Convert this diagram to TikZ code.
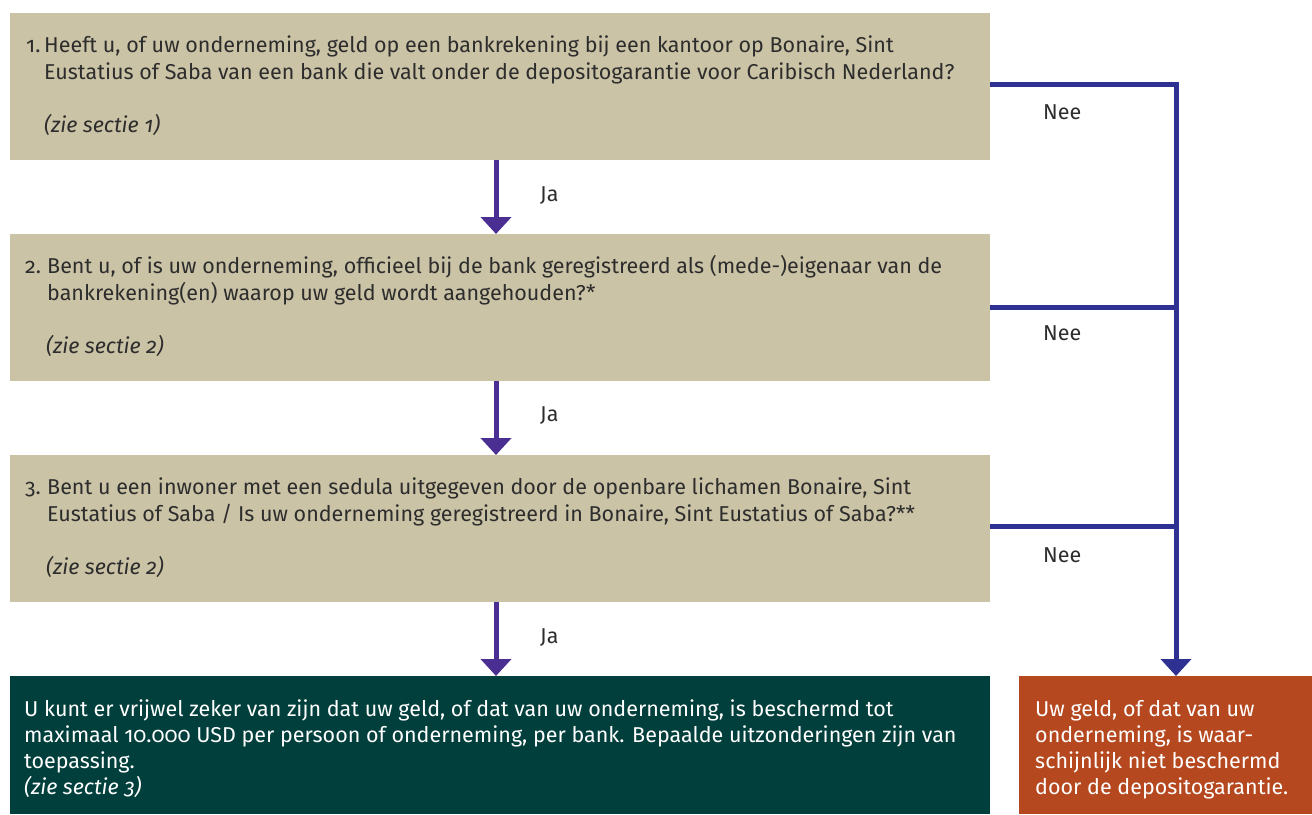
\documentclass[tikz,border=0pt]{standalone}
\usepackage{fontspec}
\setmainfont{Fira Sans}[Numbers=OldStyle]
\usetikzlibrary{arrows.meta}
\definecolor{beige}{HTML}{CBC3A6}
\definecolor{dgreen}{HTML}{003F3C}
\definecolor{rust}{HTML}{B5481E}
\definecolor{navy}{HTML}{2E3192}
\definecolor{purp}{HTML}{4B2E91}
\definecolor{txt}{HTML}{2D2D2D}
\begin{document}
\begin{tikzpicture}[x=1pt,y=-1pt,
  qbox/.style={fill=beige, draw=none, inner sep=0, anchor=north west, minimum width=980pt, minimum height=147pt},
  line/.style={anchor=base west, inner sep=0, text=txt, font=\fontsize{21.5}{26}\selectfont},
  wline/.style={line, text=white},
  ital/.style={line, font=\fontsize{21.5}{26}\selectfont\itshape},
  lbl/.style={anchor=base west, inner sep=0, text=txt, font=\fontsize{21.5}{26}\selectfont},
  varrow/.style={draw=purp, line width=5pt, -{Triangle[width=30pt,length=17pt]}},
  nline/.style={draw=navy, line width=5pt, line join=miter},
  narrow/.style={nline, -{Triangle[width=30pt,length=17pt]}}
]
\useasboundingbox (0,0) rectangle (1312,814);
% boxes
\node[qbox] (b1) at (10,13) {};
\node[qbox] (b2) at (10,234) {};
\node[qbox] (b3) at (10,455) {};
\node[fill=dgreen, inner sep=0, anchor=north west, minimum width=980pt, minimum height=138pt] (yes) at (10,676) {};
\node[fill=rust, inner sep=0, anchor=north west, minimum width=293pt, minimum height=138pt] (no) at (1019,676) {};
% texts box 1
\node[line] (t1n) at (26,52) {1.};
\node[line] (t1a) at (44,52) {Heeft u, of uw onderneming, geld op een bankrekening bij een kantoor op Bonaire, Sint};
\node[line] (t1b) at (44,79) {Eustatius of Saba van een bank die valt onder de depositogarantie voor Caribisch Nederland?};
\node[ital] (t1c) at (44,132) {(zie sectie 1)};
% texts box 2
\node[line] (t2n) at (25,273) {2.};
\node[line] (t2a) at (47,273) {Bent u, of is uw onderneming, officieel bij de bank geregistreerd als (mede-)eigenaar van de};
\node[line] (t2b) at (47,300) {bankrekening(en) waarop uw geld wordt aangehouden?*};
\node[ital] (t2c) at (46,353) {(zie sectie 2)};
% texts box 3
\node[line] (t3n) at (25,494) {3.};
\node[line] (t3a) at (47,494) {Bent u een inwoner met een sedula uitgegeven door de openbare lichamen Bonaire, Sint};
\node[line] (t3b) at (47,521) {Eustatius of Saba / Is uw onderneming geregistreerd in Bonaire, Sint Eustatius of Saba?**};
\node[ital] (t3c) at (46,574) {(zie sectie 2)};
% green
\node[wline] (g1) at (24,716) {U kunt er vrijwel zeker van zijn dat uw geld, of dat van uw onderneming, is beschermd tot};
\node[wline] (g2) at (24,742) {maximaal 10.000 USD per persoon of onderneming, per bank. Bepaalde uitzonderingen zijn van};
\node[wline] (g3) at (24,768) {toepassing.};
\node[wline, font=\fontsize{21.5}{26}\selectfont\itshape] (g4) at (24,794) {(zie sectie 3)};
% orange
\node[wline] (o1) at (1035,716) {Uw geld, of dat van uw};
\node[wline] (o2) at (1035,742) {onderneming, is waar-};
\node[wline] (o3) at (1035,768) {schijnlijk niet beschermd};
\node[wline] (o4) at (1035,794) {door de depositogarantie.};
% arrows down
\coordinate (ax) at (496,0);
\coordinate (rx) at (1176,0);
\draw[varrow] (b1.south -| ax) -- (b2.north -| ax);
\draw[varrow] (b2.south -| ax) -- (b3.north -| ax);
\draw[varrow] (b3.south -| ax) -- (yes.north -| ax);
\node[lbl] (ja1) at (540,201) {Ja};
\node[lbl] (ja2) at (540,421) {Ja};
\node[lbl] (ja3) at (540,643) {Ja};
% nee lines
\coordinate (n1) at ([yshift=2.5pt]b1.east);
\coordinate (n3) at ([yshift=2.5pt]b3.east);
\draw[narrow] (n1) -- (rx |- n1) -- (rx |- no.north);
\draw[nline] (b2.east) -- (rx |- b2.east);
\draw[nline] (n3) -- (rx |- n3);
\node[lbl] (nee1) at (1043,119) {Nee};
\node[lbl] (nee2) at (1043,340) {Nee};
\node[lbl] (nee3) at (1043,562) {Nee};
\end{tikzpicture}
\end{document}
